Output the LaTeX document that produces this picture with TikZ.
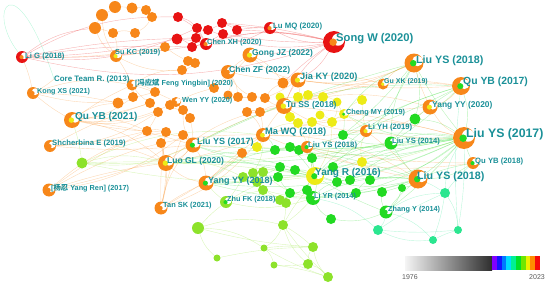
\documentclass[tikz,border=0pt]{standalone}
\usepackage{fontspec}
\setmainfont{Liberation Sans}
\newfontfamily\cjk{Noto Sans CJK SC}
\usepackage{tikz}
\usetikzlibrary{backgrounds}
\definecolor{vosred}{HTML}{E81313}
\definecolor{vosorange}{HTML}{F7871A}
\definecolor{vosyellow}{HTML}{EDEB17}
\definecolor{vosgreen}{HTML}{22DA22}
\definecolor{voslime}{HTML}{8DE22B}
\definecolor{vosmint}{HTML}{2BE690}
\definecolor{vosteal}{HTML}{1A9098}
\definecolor{vosgray}{HTML}{5A5A5A}
\tikzset{
  dot/.style={circle, inner sep=0pt, draw=none},
  lab/.style={anchor=west, inner sep=0pt, text=vosteal, font=\bfseries\fontsize{#1}{#1}\selectfont},
  wire/.style={line width=0.4pt, draw=#1, draw opacity=0.32},
  yearlbl/.style={inner sep=0pt, text=vosgray, font=\fontsize{7}{7}\selectfont},
}

\begin{document}
\begin{tikzpicture}[x=1pt, y=-1pt]
  \useasboundingbox (0,0) rectangle (550,284);
  % plain nodes
  \foreach \n/\x/\y/\rad/\col in {
    o1/102/15/6/vosorange, o2/115/7/6/vosorange, o3/132/8/5.5/vosorange, o4/146/10/5/vosorange,
    o5/152/17/5/vosorange, o6/95/28/6/vosorange, o7/113/33/5/vosorange, o8/135/33/5/vosorange,
    o9/165/47/5/vosorange, o10/188/61/5/vosorange, o11/195/63/5/vosorange, o12/182/70/5/vosorange,
    o13/283/83/5.5/vosorange, o14/118/103/5.5/vosorange, o15/133/97/5/vosorange, o16/150/103/5/vosorange,
    o17/155/92/5/vosorange, o18/170/105/5/vosorange, o19/183/110/5/vosorange, o20/158/112/5/vosorange,
    o21/147/131/5/vosorange, o22/166/132/5/vosorange, o23/183/135/5/vosorange, o24/161/143/5/vosorange,
    o25/190/118/5/vosorange, o26/238/97/5/vosorange, o27/252/97/5/vosorange, o28/265/98/5/vosorange,
    o29/247/112/5/vosorange, o30/260/112/5/vosorange, o31/242/153/5/vosorange, o32/214/88/5/vosorange,
    o33/228/95/4.5/vosorange,
    r1/178/17/5/vosred, r2/197/28/5/vosred, r3/177/39/5.5/vosred, r4/192/47/5/vosred,
    r5/208/30/5/vosred, r6/222/23/5/vosred, r7/223/34/5/vosred, r8/237/30/5/vosred, r9/196/38/5/vosred,
    y1/298/97/5/vosyellow, y2/308/95/5/vosyellow, y3/323/97/5/vosyellow, y4/337/102/4.5/vosyellow,
    y5/290/117/5/vosyellow, y6/298/123/5/vosyellow, y7/312/122/5/vosyellow, y8/320/115/4.5/vosyellow,
    y9/332/122/5/vosyellow, y10/257/147/5/vosyellow, y11/362/100/5/vosyellow, y12/362/162/5/vosyellow,
    y13/280/97/4.5/vosyellow,
    g1/343/135/5/vosgreen, g2/290/147/5/vosgreen, g3/275/150/5/vosgreen, g4/299/150/5/vosgreen,
    g5/312/158/5/vosgreen, g6/280/167/5/vosgreen, g7/295/170/5/vosgreen, g8/333/167/5/vosgreen,
    g9/350/180/5/vosgreen, g10/278/177/5/vosgreen, g11/290/193/5/vosgreen, g12/307/190/5/vosgreen,
    g13/337/182/5/vosgreen, g14/370/180/5/vosgreen, g15/382/192/5/vosgreen, g16/415/119/5.5/vosgreen,
    g17/331/219/5/vosgreen, g18/402/188/4/vosgreen, g19/356/193/5/vosgreen,
    l1/253/173/5/voslime, l2/263/172/5/voslime, l3/257/182/5/voslime, l4/243/177/5/voslime,
    l5/280/200/5/voslime, l6/263/190/5/voslime, l8/286/203/5/voslime, l9/198/228/6/voslime,
    l10/283/225/5/voslime, l11/217/258/3.5/voslime, l12/264/248/3.5/voslime, l13/313/247/5/voslime,
    l14/274/265/3.5/voslime, l15/308/264/5/voslime, l16/328/277/5/voslime, l17/82/163/5.5/voslime,
    m1/445/193/5/vosmint, m2/378/230/5/vosmint, m3/433/240/4/vosmint, m4/458/230/4/vosmint}
    \node[dot, fill=\col, minimum size=\rad*2pt] (\n) at (\x,\y) {};
  % labelled nodes
  \foreach \n/\x/\y/\rad/\ca/\cb in {
    lig/22/57/6/vosred/vosorange, sukc/116/56/6/vosorange/vosyellow, kong/33/93/6/vosorange/vosorange,
    feng/132/85/5.5/vosorange/vosorange, lumq/270/28/6/vosred/vosorange, chenxh/206/44/6/vosred/vosorange,
    songw/334/42/11/vosred/vosorange, gong/250/55/7.5/vosorange/vosyellow, chenzf/228/72/7/vosorange/vosorange,
    jia/298/80/7.5/vosorange/vosyellow, liu18a/414/63/9.5/vosorange/vosgreen, guxk/383/84/5.5/vosorange/vosyellow,
    qu17/461/86/9/vosorange/vosgreen, qu21/72/120/8/vosorange/vosyellow, shch/50/146/6/vosorange/vosorange,
    wen/176/102/5/vosorange/vosorange, tuss/284/106/8/vosorange/vosyellow, cheng/344/114/5/vosyellow/vosgreen,
    yang20/430/107/7.5/vosorange/vosyellow, liyh/366/131/6/vosorange/vosyellow, mawq/263/135/7/vosorange/vosyellow,
    liu17a/193/145/7.5/vosorange/vosgreen, liu18b/307/147/6/vosorange/vosgreen, liu14/391/143/6.5/vosgreen/vosgreen,
    liu17/464/138/11/vosorange/vosgreen, qu18/473/163/6/vosorange/vosgreen, luo/166/163/8/vosorange/vosyellow,
    yangr/315/176/9/vosyellow/vosgreen, liu18c/418/179/9.5/vosorange/vosgreen, yang18/206/183/7.5/vosorange/vosgreen,
    yangren/49/190/6.5/vosorange/vosorange, tansk/161/208/6.5/vosorange/vosorange, zhu/226/202/6/voslime/vosgreen,
    liyr/313/198/7/vosgreen/vosgreen, zhang/386/212/6.5/vosgreen/vosgreen}{
    \node[dot, fill=\ca, minimum size=\rad*2pt] (\n) at (\x,\y) {};
    \fill[white] ([shift={(\rad*0.38pt,\rad*0.22pt)}]\n.center) circle[radius=\rad*0.56pt];
    \fill[\cb] ([shift={(-\rad*0.08pt,-\rad*0.02pt)}]\n.center) circle[radius=\rad*0.34pt];
  }
  \node[lab=7.9] (core) at (54,79) {Core Team R. (2013)};
  \foreach \n/\x/\y/\fs/\txt in {
    lig/25/57/7.7/{Li G (2018)}, sukc/115/53/7.3/{Su KC (2019)}, kong/37/92/7.2/{Kong XS (2021)},
    feng/135/83/7.3/{[{\cjk 冯应斌} Feng Yingbin] (2020)}, lumq/273/26/7.8/{Lu MQ (2020)},
    chenxh/207/43/7.4/{Chen XH (2020)}, songw/336/39/11.2/{Song W (2020)}, gong/252/53/8.4/{Gong JZ (2022)},
    chenzf/229/70/8.5/{Chen ZF (2022)}, jia/300/77/9.2/{Jia KY (2020)}, liu18a/416/61/10.7/{Liu YS (2018)},
    guxk/384/82/7/{Gu XK (2019)}, qu17/463/82/10.4/{Qu YB (2017)}, qu21/75/117/10/{Qu YB (2021)},
    shch/52/144/7.7/{Shcherbina E (2019)}, wen/182/101/7.3/{Wen YY (2020)}, tuss/286/105/8.5/{Tu SS (2018)},
    cheng/346/113/7.3/{Cheng MY (2019)}, yang20/432/105/8.4/{Yang YY (2020)}, liyh/368/128/7.7/{Li YH (2019)},
    mawq/265/132/9.3/{Ma WQ (2018)}, liu17a/197/142/9/{Liu YS (2017)}, liu18b/308/145/7.8/{Liu YS (2018)},
    liu14/392/142/7.6/{Liu YS (2014)}, liu17/466/134/12.3/{Liu YS (2017)}, qu18/475/162/7.7/{Qu YB (2018)},
    luo/167/161/8.5/{Luo GL (2020)}, yangr/315/173/10/{Yang R (2016)}, liu18c/417/177/10.7/{Liu YS (2018)},
    yang18/208/181/9/{Yang YY (2018)}, yangren/51/188/7.3/{[{\cjk 杨忍} Yang Ren] (2017)},
    tansk/163/206/7.4/{Tan SK (2021)}, zhu/227/200/7.3/{Zhu FK (2018)}, liyr/314/197/7.3/{Li YR (2014)},
    zhang/388/210/7.3/{Zhang Y (2014)}}
    \node[lab=\fs] (t\n) at (\x,\y) {\txt};
  % links
  \begin{pgfonlayer}{background}
    \foreach \a/\b [count=\i, evaluate=\i as \bnd using {(mod(\i,4)-1.5)*10}] in {
      lig/r3, lig/r4, lig/r1, lig/songw, lig/chenxh, lig/r9, lig/o6, lig/r2, songw/r6, songw/r7, songw/lumq,
      songw/chenxh, songw/r8, songw/gong, songw/r5, songw/r4, lumq/r8, lumq/r6, lumq/chenxh, chenxh/r1,
      chenxh/r2, chenxh/r7, r1/r2, r2/r5, r5/r6, r6/r8, r3/r4, r4/r9, r9/r2, r3/chenxh, songw/jia,
      songw/tuss, songw/o13}
      \draw[wire=vosred] (\a) to[bend left=\bnd] (\b);
    \foreach \a/\b [count=\i, evaluate=\i as \bnd using {(mod(\i,4)-1.5)*10}] in {
      lig/o9, lig/kong, sukc/o6, sukc/o7, sukc/o9, sukc/feng, sukc/o1, sukc/o12, o1/o2, o2/o3, o3/o4,
      o4/o5, o1/o6, o6/o7, o7/o8, o8/o5, o9/o10, o10/o11, o11/o12, o12/feng, feng/o15, feng/wen, feng/o17,
      wen/o18, wen/o19, wen/o32, qu21/o14, qu21/o15, qu21/o16, qu21/feng, qu21/o21, qu21/wen, qu21/o22,
      qu21/liu17a, qu21/luo, qu21/o20, kong/core.west, kong/o14, kong/feng, kong/o17, kong/qu21,
      core.east/feng, core.east/o15, core.east/o16, shch/o21, shch/o16, shch/luo, shch/o20, shch/liu17a,
      yangren/o21, yangren/o22, yangren/o23, yangren/liu17a, yangren/luo, yangren/mawq, tansk/o24,
      tansk/luo, tansk/o23, tansk/liu17a, tansk/mawq, tansk/o31, tansk/o22, luo/o22, luo/liu17a,
      luo/mawq, luo/o24, luo/tuss, liu17a/mawq, liu17a/o25, liu17a/tuss, liu17a/o19, mawq/o29, mawq/o30,
      mawq/tuss, gong/o13, gong/jia, gong/chenzf, gong/o32, chenzf/o26, chenzf/o27, chenzf/jia,
      chenzf/o32, chenzf/o33, jia/o13, jia/tuss, jia/o28, jia/y1, liu18a/guxk, liu18a/yang20, liu18a/tuss,
      liu18a/jia, guxk/o13, guxk/tuss, guxk/jia, qu17/yang20, qu17/tuss, qu17/guxk, qu17/jia,
      yang20/liyh, yang20/tuss, yang20/mawq, liyh/mawq, liyh/tuss, liu17/mawq, liu17/tuss, liu17/liyh,
      liu17/yang20, liu18c/mawq, liu18c/liyh, liu18c/liu18b, tuss/o28, tuss/o30, o26/o27, o27/o28,
      o29/o30, o18/o19, o19/o25, o20/o21, o21/o22, o22/o23, o23/liu17a, o31/yang18, yang18/luo,
      yang18/liu17a, yang18/tansk, yang18/mawq, o33/o26, o13/o28, wen/o25, qu18/liu18b, qu18/mawq}
      \draw[wire=vosorange] (\a) to[bend left=\bnd] (\b);
    \foreach \a/\b [count=\i, evaluate=\i as \bnd using {(mod(\i,4)-1.5)*10}] in {
      y1/y2, y2/y3, y3/y4, y5/y6, y6/y7, y7/y8, y8/y9, y9/y4, cheng/y9, cheng/y4, cheng/y11, y10/mawq,
      y11/liyh, y12/yangr, yangr/y7, yangr/y5, y13/y1, tuss/y5, tuss/y13, y6/mawq, y10/liu18b,
      cheng/liyh, y12/liyh, yangr/y9}
      \draw[wire=vosyellow!85!black] (\a) to[bend left=\bnd] (\b);
    \foreach \a/\b [count=\i, evaluate=\i as \bnd using {(mod(\i,4)-1.5)*10}] in {
      liu17/g1, liu17/g8, liu17/g14, liu17/liu14, liu17/yangr, liu17/liu18c, liu17/liu18b, liu17/g16,
      liu17/qu18, liu17/g13, liu17/liyr, liu17/y12, liu17/g5, liu17/g2, liu17/cheng, liu17/g9,
      qu17/g16, qu17/liu14, qu17/liu17, qu17/yangr, qu17/g1, qu17/liu18b, liu18a/g16, liu18a/liu14,
      liu18a/liu17, liu18a/g1, liu18a/yangr, liu18a/cheng, liu18c/g14, liu18c/g15, liu18c/yangr,
      liu18c/liyr, liu18c/zhang, liu18c/liu14, liu18c/g18, liu18c/qu18, liu18c/g9, liu18c/g19,
      liu14/g1, liu14/yangr, liu14/g8, liu14/g16, yangr/g5, yangr/g7, yangr/g8, yangr/g13, yangr/liyr,
      yangr/g12, yangr/g2, yangr/g6, yangr/g9, liyr/g11, liyr/g12, liyr/g19, liyr/g13, liyr/g17, g2/g3,
      g3/g4, g4/g5, g6/g7, g10/g11, g10/yang18, g6/yang18, g2/liu18b, liu18b/g4, liu18b/yangr,
      zhang/g15, zhang/g18, zhang/liu17, zhang/yangr, zhang/g17, g3/mawq, g1/cheng, yang18/yangr,
      yang18/g3, liu17a/g2, liu17a/yangr, luo/g6, luo/yangr, g14/g19, qu18/liu18c, liu17/luo,
      liu17/yang18, qu17/liu17a, liu18a/liu17a, liu17/liu17a, liu18c/yang18, liu18c/luo}
      \draw[wire=vosgreen] (\a) to[bend left=\bnd] (\b);
    \foreach \a/\b [count=\i, evaluate=\i as \bnd using {(mod(\i,4)-1.5)*10}] in {
      l1/l2, l2/l3, l3/l4, l4/yang18, l5/l8, l6/l5, l1/yangr, l2/liyr, zhu/l4, zhu/l6, zhu/yangr,
      zhu/liyr, zhu/l9, zhu/yang18, l9/l10, l9/l11, l9/l13, l10/l13, l10/l12, l10/l15, l10/l16, l12/l13,
      l12/l14, l13/l15, l14/l15, l14/l16, l15/l16, l13/l16, l10/liyr, l10/g12, l17/luo, l17/liu17a,
      l17/liu14, l17/yangr, l17/mawq, l17/liu17, l17/qu21, l8/l10, l9/l12, l5/yangr, l6/liyr, l3/yangr,
      luo/l4, l1/mawq, l12/l16, l11/l13}
      \draw[wire=voslime] (\a) to[bend left=\bnd] (\b);
    \foreach \a/\b [count=\i, evaluate=\i as \bnd using {(mod(\i,4)-1.5)*10}] in {
      m1/m2, m1/m3, m1/m4, m2/m3, m2/m4, m3/m4, m1/liu17, m2/zhang, m4/liu17, m1/qu18, zhang/m1,
      m2/liyr, m1/liu18c, m4/qu17, zhang/m3}
      \draw[wire=vosmint] (\a) to[bend left=\bnd] (\b);
    \draw[wire=vosmint] (core.west) .. controls (15,-40) and (-15,10) .. (lig);
  \end{pgfonlayer}
  % colour scale
  \shade[left color=black!4, right color=black!82] (405,256) rectangle (492,270);
  \foreach \col [count=\i] in {{rgb,255:red,128;green,0;blue,255}, {rgb,255:red,20;green,20;blue,255},
      {rgb,255:red,0;green,120;blue,255}, {rgb,255:red,0;green,220;blue,255}, {rgb,255:red,0;green,240;blue,150},
      {rgb,255:red,0;green,225;blue,40}, {rgb,255:red,110;green,230;blue,0}, {rgb,255:red,235;green,240;blue,0},
      {rgb,255:red,255;green,140;blue,0}, {rgb,255:red,245;green,10;blue,10}}
    \fill[color=\col] ({487.2+\i*4.8},256) rectangle ({492+\i*4.8},270);
  \node[yearlbl] (yfirst) at (410,277) {1976};
  \node[yearlbl] (ylast) at (537,277) {2023};
\end{tikzpicture}
\end{document}
